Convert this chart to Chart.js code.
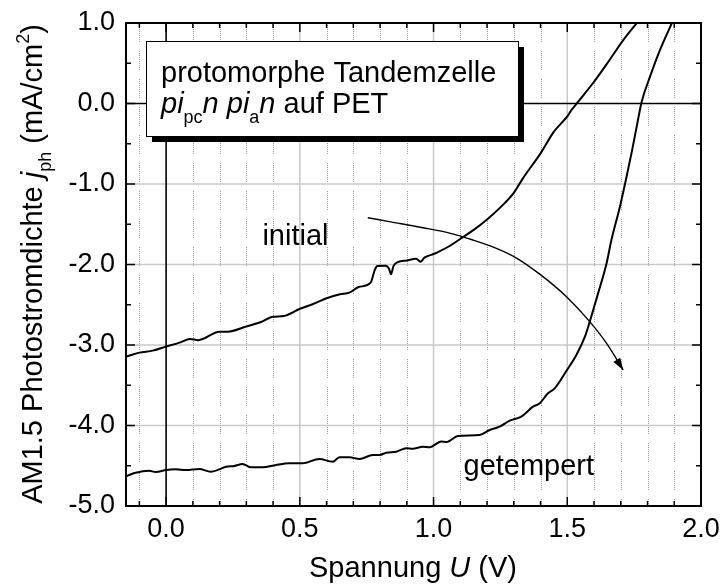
<!DOCTYPE html>
<html>
<head>
<meta charset="utf-8">
<script src="https://cdn.jsdelivr.net/npm/chart.js@4"></script>
<style>
body{margin:0;background:#fff;}
#wrap{width:722px;height:585px;}
</style>
</head>
<body>
<div id="wrap"><canvas id="jvChart" width="722" height="585"></canvas></div>
<script>
// j-U Kennlinien der Tandemzelle, U in V, j in mA/cm2

const initialU = [-0.15, -0.10, -0.05, 0.00, 0.05, 0.09, 0.12, 0.20, 0.23, 0.30, 0.35, 0.40, 0.44, 0.50, 0.55, 0.60, 0.65, 0.685, 0.72, 0.765, 0.78, 0.79, 0.82, 0.833, 0.841, 0.85, 0.866, 0.90, 0.935, 0.951, 0.966, 1.00, 1.02, 1.06, 1.11, 1.15, 1.20, 1.25, 1.30, 1.334, 1.40, 1.45, 1.50, 1.516, 1.54, 1.60, 1.66, 1.71, 1.765];
const initialJ = [-3.145, -3.095, -3.07, -3.02, -2.97, -2.925, -2.94, -2.835, -2.835, -2.77, -2.72, -2.65, -2.64, -2.55, -2.49, -2.42, -2.37, -2.35, -2.28, -2.225, -2.07, -2.02, -2.015, -2.05, -2.12, -2.02, -1.97, -1.95, -1.93, -1.965, -1.915, -1.87, -1.84, -1.77, -1.66, -1.57, -1.44, -1.29, -1.11, -0.93, -0.62, -0.35, -0.16, -0.08, 0.02, 0.27, 0.55, 0.79, 1.02];

const tempU = [-0.15, -0.114, -0.064, -0.039, 0.00, 0.036, 0.074, 0.124, 0.167, 0.199, 0.224, 0.255, 0.286, 0.317, 0.361, 0.411, 0.461, 0.51, 0.573, 0.623, 0.648, 0.685, 0.723, 0.773, 0.798, 0.823, 0.86, 0.898, 0.922, 0.96, 0.985, 1.029, 1.048, 1.091, 1.172, 1.21, 1.247, 1.285, 1.328, 1.372, 1.397, 1.428, 1.453, 1.497, 1.534, 1.566, 1.584, 1.615, 1.647, 1.665, 1.697, 1.719, 1.74, 1.76, 1.778, 1.809, 1.846, 1.894];
const tempJ = [-4.63, -4.586, -4.561, -4.578, -4.553, -4.545, -4.553, -4.54, -4.574, -4.545, -4.512, -4.503, -4.478, -4.52, -4.52, -4.49, -4.47, -4.47, -4.416, -4.45, -4.395, -4.395, -4.416, -4.366, -4.366, -4.338, -4.325, -4.283, -4.29, -4.263, -4.27, -4.2, -4.205, -4.13, -4.118, -4.056, -4.015, -3.94, -3.89, -3.766, -3.724, -3.6, -3.538, -3.32, -3.124, -2.897, -2.71, -2.36, -1.985, -1.696, -1.28, -0.95, -0.62, -0.28, 0.02, 0.33, 0.66, 1.02];

// Pfeil initial -> getempert
const arrowU = [0.754, 0.835, 0.96, 1.06, 1.147, 1.235, 1.31, 1.397, 1.497, 1.584, 1.647, 1.709];
const arrowJ = [-1.419, -1.468, -1.543, -1.61, -1.696, -1.80, -1.92, -2.12, -2.40, -2.71, -2.98, -3.31];

const xTickLabels = [0.0, 0.5, 1.0, 1.5, 2.0];
const yTickLabels = [1.0, 0.0, -1.0, -2.0, -3.0, -4.0, -5.0];

const FONT = '"Liberation Sans", Arial, Helvetica, sans-serif';

function pts(u, j){
  return u.map((v, i) => ({x: v, y: j[i]}));
}

function fontFor(p, size){
  const s = (p.sub || p.sup) ? Math.round(size * 0.62) : size;
  return (p.it ? 'italic ' : '') + s + 'px ' + FONT;
}

// text with italic / sub / sup pieces
function drawRich(ctx, parts, x, y, size, align){
  let w = 0;
  parts.forEach(p => { ctx.font = fontFor(p, size); w += ctx.measureText(p.t).width; });
  let cx = align === 'center' ? x - w / 2 : x;
  ctx.textAlign = 'left';
  ctx.textBaseline = 'alphabetic';
  parts.forEach(p => {
    ctx.font = fontFor(p, size);
    const dy = p.sub ? size * 0.34 : (p.sup ? -size * 0.42 : 0);
    ctx.fillText(p.t, cx, y + dy);
    cx += ctx.measureText(p.t).width;
  });
}

function seg(ctx, x1, y1, x2, y2){
  ctx.beginPath();
  ctx.moveTo(x1, y1);
  ctx.lineTo(x2, y2);
  ctx.stroke();
}

const dotted = [1,1,1,1,1,1,1,1,1,1,1,1,1,1,1,1,1,1,1,9];

const decor = {
  id: 'decor',
  beforeDatasetsDraw(chart){
    const {ctx, chartArea: a, scales: {x, y}} = chart;
    ctx.save();
    // feines Raster alle 0.1 V
    ctx.strokeStyle = '#9a9a9a';
    ctx.lineWidth = 1;
    ctx.setLineDash(dotted);
    for (let i = -1; i < 20; i++){
      if (i % 5 === 0) continue;
      const px = Math.round(x.getPixelForValue(i / 10)) + 0.5;
      seg(ctx, px, a.top, px, a.bottom);
    }
    ctx.setLineDash([]);
    ctx.strokeStyle = '#c8c8c8';
    ctx.lineWidth = 1.5;
    [0.5, 1.0, 1.5].forEach(v => {
      const px = x.getPixelForValue(v);
      seg(ctx, px, a.top, px, a.bottom);
    });
    [-1, -2, -3, -4].forEach(v => {
      const py = y.getPixelForValue(v);
      seg(ctx, a.left, py, a.right, py);
    });
    // Nulllinien
    ctx.strokeStyle = '#000';
    ctx.lineWidth = 1.6;
    const x0 = x.getPixelForValue(0), y0 = y.getPixelForValue(0);
    seg(ctx, x0, a.top, x0, a.bottom);
    seg(ctx, a.left, y0, a.right, y0);
    ctx.restore();
  },
  afterDatasetsDraw(chart){
    const {ctx, chartArea: a, scales: {x, y}} = chart;
    ctx.save();
    ctx.fillStyle = '#000';
    ctx.strokeStyle = '#000';

    // Pfeilspitze
    const m = chart.getDatasetMeta(2).data;
    const p1 = m[m.length - 2], p2 = m[m.length - 1];
    const ang = Math.atan2(p2.y - p1.y, p2.x - p1.x);
    ctx.save();
    ctx.translate(p2.x, p2.y);
    ctx.rotate(ang);
    ctx.beginPath();
    ctx.moveTo(0, 0);
    ctx.lineTo(-12, -4);
    ctx.lineTo(-12, 4);
    ctx.closePath();
    ctx.fill();
    ctx.restore();

    // Rahmen
    ctx.lineWidth = 2;
    ctx.strokeRect(a.left, a.top, a.right - a.left, a.bottom - a.top);

    // Teilstriche innen, alle vier Seiten
    ctx.lineWidth = 1.5;
    for (let i = -1; i <= 20; i++){
      const major = i % 5 === 0;
      const len = major ? 9 : 5;
      const px = x.getPixelForValue(i / 10);
      if (px <= a.left || px >= a.right) continue;
      seg(ctx, px, a.bottom, px, a.bottom - len);
      seg(ctx, px, a.top, px, a.top + len);
    }
    for (let k = -10; k <= 2; k++){
      const v = k / 2;
      const major = k % 2 === 0;
      const len = major ? 9 : 5;
      const py = y.getPixelForValue(v);
      if (py <= a.top || py >= a.bottom) continue;
      seg(ctx, a.left, py, a.left + len, py);
      seg(ctx, a.right, py, a.right - len, py);
    }

    // Legendenkasten mit Schatten
    const bx = a.left + 20, by = a.top + 18, bw = 372, bh = 95;
    ctx.fillRect(bx + 6, by + 6, bw, bh);
    ctx.fillStyle = '#fff';
    ctx.fillRect(bx, by, bw, bh);
    ctx.lineWidth = 1;
    ctx.strokeRect(bx + 0.5, by + 0.5, bw, bh);
    ctx.fillStyle = '#000';
    drawRich(ctx, [{t: 'protomorphe Tandemzelle'}], bx + 15, by + 41, 29, 'left');
    drawRich(ctx, [
      {t: 'pi', it: true}, {t: 'pc', sub: true}, {t: 'n', it: true},
      {t: ' '},
      {t: 'pi', it: true}, {t: 'a', sub: true}, {t: 'n', it: true},
      {t: ' auf PET'}
    ], bx + 15, by + 72, 29, 'left');

    // Kurvenbeschriftung
    drawRich(ctx, [{t: 'initial'}], x.getPixelForValue(0.36), y.getPixelForValue(-1.758), 29, 'left');
    drawRich(ctx, [{t: 'getempert'}], x.getPixelForValue(1.112), y.getPixelForValue(-4.614), 29, 'left');

    // Achsentitel
    drawRich(ctx, [{t: 'Spannung '}, {t: 'U', it: true}, {t: ' (V)'}], 413, 577, 29, 'center');
    ctx.save();
    ctx.translate(41.5, 264);
    ctx.rotate(-Math.PI / 2);
    drawRich(ctx, [
      {t: 'AM1.5 Photostromdichte '}, {t: 'j', it: true}, {t: 'ph', sub: true},
      {t: ' (mA/cm'}, {t: '2', sup: true}, {t: ')'}
    ], 0, 0, 29, 'center');
    ctx.restore();

    ctx.restore();
  }
};

new Chart(
  document.getElementById('jvChart'),
  {
    type: 'line',
    data: {
      datasets: [
        {data: pts(initialU, initialJ), borderColor: '#000', borderWidth: 2, pointRadius: 0, cubicInterpolationMode: 'monotone', fill: false},
        {data: pts(tempU, tempJ), borderColor: '#000', borderWidth: 2, pointRadius: 0, cubicInterpolationMode: 'monotone', fill: false},
        {data: pts(arrowU, arrowJ), borderColor: '#000', borderWidth: 1.4, pointRadius: 0, cubicInterpolationMode: 'monotone', fill: false}
      ]
    },
    options: {
      responsive: false,
      devicePixelRatio: 1,
      animation: false,
      layout: {padding: {top: 23, right: 21, left: 0, bottom: 0}},
      plugins: {legend: {display: false}, tooltip: {enabled: false}},
      scales: {
        x: {
          type: 'linear',
          min: -0.15,
          max: 2.0,
          afterBuildTicks: s => { s.ticks = xTickLabels.map(v => ({value: v})); },
          afterFit: s => { s.height = 79; s.paddingLeft = 0; s.paddingRight = 0; },
          grid: {display: false, drawTicks: false},
          border: {display: false},
          ticks: {
            color: '#000',
            padding: 7,
            maxRotation: 0,
            autoSkip: false,
            font: {family: FONT, size: 27},
            callback: v => Number(v).toFixed(1)
          }
        },
        y: {
          type: 'linear',
          min: -5.0,
          max: 1.0,
          afterBuildTicks: s => { s.ticks = yTickLabels.map(v => ({value: v})); },
          afterFit: s => { s.width = 126; s.paddingTop = 0; s.paddingBottom = 0; },
          grid: {display: false, drawTicks: false},
          border: {display: false},
          ticks: {
            color: '#000',
            padding: 11,
            autoSkip: false,
            font: {family: FONT, size: 27},
            callback: v => Number(v).toFixed(1)
          }
        }
      }
    },
    plugins: [decor]
  }
);
</script>
</body>
</html>
